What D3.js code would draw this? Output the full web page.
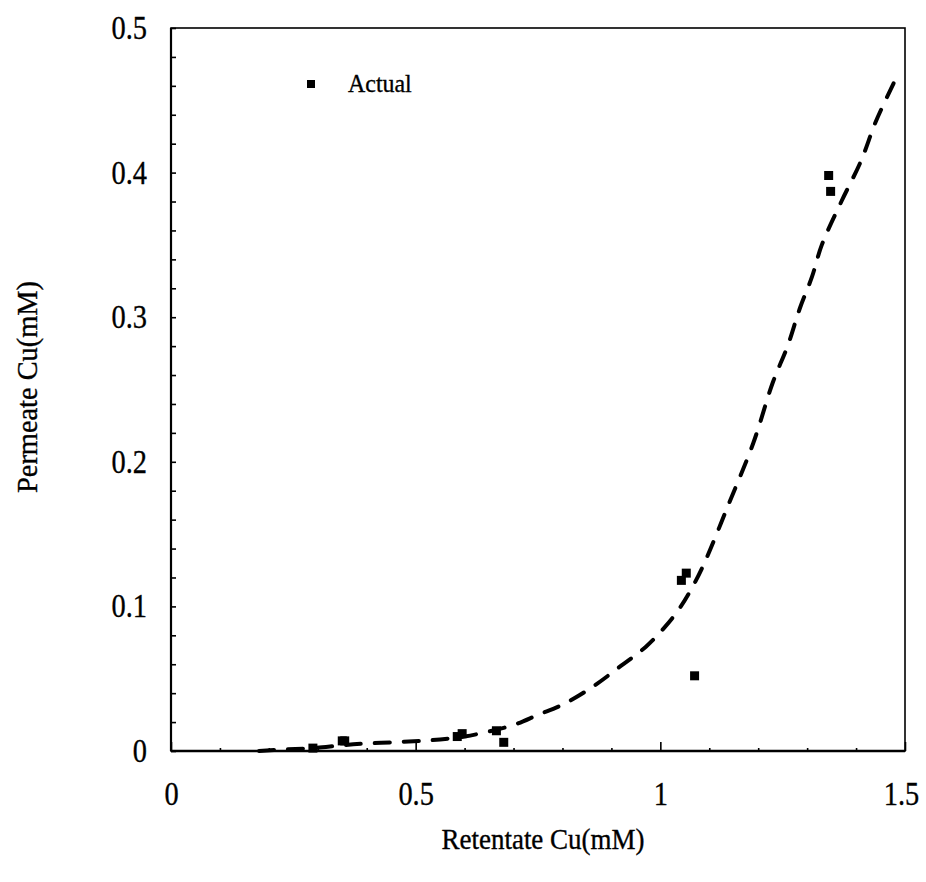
<!DOCTYPE html>
<html>
<head>
<meta charset="utf-8">
<script src="https://cdn.jsdelivr.net/npm/d3@7"></script>
<style>
  html, body { margin: 0; padding: 0; background: #fff; }
  svg text { font-family: "Liberation Serif", "DejaVu Serif", serif; fill: #000; stroke: #000; stroke-width: 0.35; }
</style>
</head>
<body>
<svg id="chart" width="926" height="882"></svg>
<script>
// Measured copper concentrations (mM)
const actualRetentate = [0.29, 0.35, 0.355, 0.585, 0.595, 0.665, 0.68, 1.043, 1.053, 1.07, 1.344, 1.348];
const actualPermeate  = [0.002, 0.007, 0.007, 0.010, 0.012, 0.014, 0.006, 0.118, 0.123, 0.052, 0.398, 0.387];

// Model curve
const modelRetentate = [0.18, 0.23, 0.29, 0.35, 0.39, 0.45, 0.51, 0.55, 0.6, 0.63, 0.7, 0.75, 0.8, 0.86, 0.92, 0.97, 1.01, 1.04, 1.065, 1.09, 1.14, 1.19, 1.23, 1.26, 1.285, 1.31, 1.33, 1.37, 1.41, 1.44, 1.477];
const modelPermeate  = [0.0, 0.001, 0.002, 0.004, 0.005, 0.006, 0.007, 0.008, 0.010, 0.012, 0.018, 0.025, 0.032, 0.044, 0.059, 0.072, 0.086, 0.099, 0.113, 0.130, 0.171, 0.213, 0.255, 0.280, 0.306, 0.328, 0.350, 0.380, 0.408, 0.435, 0.462];

const xMajorTicks = [0, 0.5, 1, 1.5];
const xTickLabels = ["0", "0.5", "1", "1.5"];
const yMajorTicks = [0, 0.1, 0.2, 0.3, 0.4, 0.5];
const yTickLabels = ["0", "0.1", "0.2", "0.3", "0.4", "0.5"];

const svg = d3.select("#chart");
const plotLeft = 171, plotRight = 905, plotTop = 28, plotBottom = 751;

const x = d3.scaleLinear().domain([0, 1.5]).range([plotLeft, plotRight]);
const y = d3.scaleLinear().domain([0, 0.5]).range([plotBottom, plotTop]);

// Narrow the glyphs of a text selection horizontally (tall, condensed type)
function condense(sel, factor) {
  sel.each(function () {
    const w = this.getComputedTextLength();
    d3.select(this).attr("textLength", w * factor).attr("lengthAdjust", "spacingAndGlyphs");
  });
}

// Frame
svg.append("rect")
  .attr("x", plotLeft).attr("y", plotTop)
  .attr("width", plotRight - plotLeft).attr("height", plotBottom - plotTop)
  .attr("fill", "none").attr("stroke", "#000").attr("stroke-width", 1.6);
svg.append("line").attr("x1", plotLeft).attr("x2", plotLeft).attr("y1", plotTop).attr("y2", plotBottom)
  .attr("stroke", "#000").attr("stroke-width", 2.2);
svg.append("line").attr("x1", plotLeft).attr("x2", plotRight).attr("y1", plotBottom).attr("y2", plotBottom)
  .attr("stroke", "#000").attr("stroke-width", 2.4);

// Bottom axis: minor ticks every 0.1, majors at 0.5 steps
const xMinor = d3.range(1, 15).map(i => i / 10).filter(v => Math.abs(v * 2 - Math.round(v * 2)) > 1e-6);
const xAxisMinor = d3.axisBottom(x).tickValues(xMinor).tickSize(-3).tickFormat("");
const xAxisMajor = d3.axisBottom(x).tickValues(xMajorTicks).tickSize(-9)
  .tickFormat((d, i) => xTickLabels[i]).tickPadding(26);

[xAxisMinor, xAxisMajor].forEach(ax => {
  const g = svg.append("g").attr("transform", `translate(0,${plotBottom})`).call(ax);
  g.select(".domain").remove();
  g.selectAll(".tick line").attr("stroke", "#000").attr("stroke-width", 1.6);
  g.selectAll(".tick text").attr("font-size", 33).attr("font-family", "Liberation Serif")
    .attr("dy", "0.85em").call(condense, 0.86)
    .attr("dx", d => d === 1.5 ? -4 : 0);
});

// Left axis: ticks every 0.02
const yMinor = d3.range(1, 25).map(i => i / 50).filter(v => Math.abs(v * 10 - Math.round(v * 10)) > 1e-6);
const yAxisMinor = d3.axisLeft(y).tickValues(yMinor).tickSize(-5).tickFormat("");
const yAxisMajor = d3.axisLeft(y).tickValues(yMajorTicks).tickSize(-5)
  .tickFormat((d, i) => yTickLabels[i]).tickPadding(24);

[yAxisMinor, yAxisMajor].forEach(ax => {
  const g = svg.append("g").attr("transform", `translate(${plotLeft},0)`).call(ax);
  g.select(".domain").remove();
  g.selectAll(".tick line").attr("stroke", "#000").attr("stroke-width", 1.6);
  g.selectAll(".tick text").attr("font-size", 33).attr("font-family", "Liberation Serif")
    .call(condense, 0.86);
});

// Model curve (dashed)
const model = modelRetentate.map((v, i) => [v, modelPermeate[i]]);
svg.append("path")
  .datum(model)
  .attr("d", d3.line().x(d => x(d[0])).y(d => y(d[1])).curve(d3.curveCatmullRom.alpha(0.5)))
  .attr("fill", "none")
  .attr("stroke", "#000")
  .attr("stroke-width", 4)
  .attr("stroke-linecap", "round")
  .attr("stroke-dasharray", "15 14");

// Measured points
const actual = actualRetentate.map((v, i) => [v, actualPermeate[i]]);
const sq = 9;
svg.append("g").selectAll("rect")
  .data(actual)
  .join("rect")
  .attr("x", d => x(d[0]) - sq / 2)
  .attr("y", d => y(d[1]) - sq / 2)
  .attr("width", sq).attr("height", sq)
  .attr("fill", "#000");

// Legend
svg.append("rect").attr("x", 307).attr("y", 80).attr("width", 8).attr("height", 8).attr("fill", "#000");
svg.append("text").attr("x", 348).attr("y", 92).attr("font-size", 26).text("Actual").call(condense, 0.92);

// Axis titles
svg.append("text")
  .attr("x", 543).attr("y", 849)
  .attr("text-anchor", "middle").attr("font-size", 30)
  .text("Retentate Cu(mM)")
  .attr("textLength", 203).attr("lengthAdjust", "spacingAndGlyphs");
svg.append("text")
  .attr("transform", "translate(37,387) rotate(-90)")
  .attr("text-anchor", "middle").attr("font-size", 30)
  .text("Permeate Cu(mM)")
  .attr("textLength", 212).attr("lengthAdjust", "spacingAndGlyphs");
</script>
</body>
</html>
